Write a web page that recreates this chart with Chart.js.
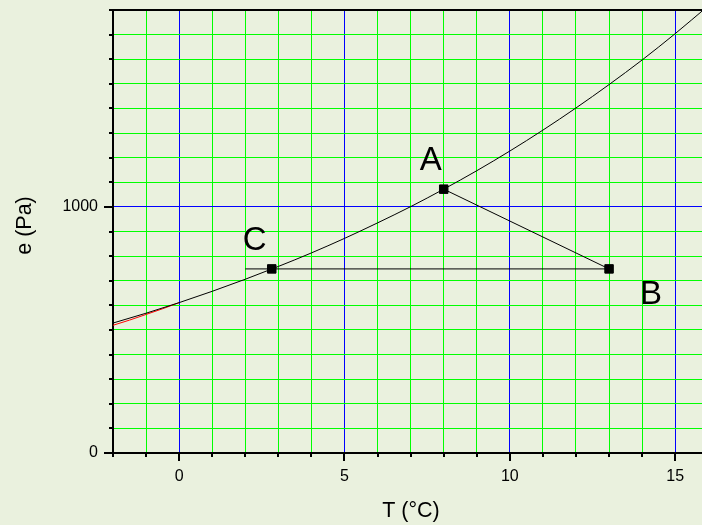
<!DOCTYPE html>
<html>
<head>
<meta charset="utf-8">
<script src="https://cdn.jsdelivr.net/npm/chart.js@4/dist/chart.umd.min.js"></script>
<style>
  html, body { margin: 0; padding: 0; background: #eaf1de; overflow: hidden; }
  canvas { display: block; }
</style>
</head>
<body>
<canvas id="c" width="702" height="525"></canvas>
<script>
// Saturation vapour pressure over water (black curve)
const curveT = [-2, -1, 0, 1, 2, 3, 4, 5, 6, 7, 8, 9, 10, 11, 12, 13, 14, 15, 16];
const curveE = [528, 568, 611, 657, 706, 758, 813, 872, 935, 1001, 1072, 1147, 1227, 1312, 1402, 1497, 1597, 1704, 1817];
// Over ice (red curve), T < 0
const iceT = [-2, -1.5, -1, -0.5, 0];
const iceE = [519, 540, 563, 586, 611];
// Marked states
const pointNames = ['A', 'B', 'C'];
const pointT = [8, 13, 2.8];
const pointE = [1072, 748, 748];
// Horizontal (isobaric) line through C to B
const hLineT = [2, 13];
const hLineE = [748, 748];
// Axis ticks
const xTickValues = [-2, -1, 0, 1, 2, 3, 4, 5, 6, 7, 8, 9, 10, 11, 12, 13, 14, 15];
const xTickLabels = ['0', '5', '10', '15'];
const yTickValues = [0, 100, 200, 300, 400, 500, 600, 700, 800, 900, 1000, 1100, 1200, 1300, 1400, 1500, 1600, 1700, 1800];
const yTickLabels = ['0', '1000'];
const xTitle = 'T (°C)';
const yTitle = 'e (Pa)';

const toXY = (xs, ys) => xs.map((x, i) => ({x: x, y: ys[i]}));
const abLine = [{x: pointT[0], y: pointE[0]}, {x: pointT[1], y: pointE[1]}];

// label offsets (pixels) relative to each marked point
const labelOffsets = {A: [-13, -19], B: [42, 35], C: [-17, -19]};

const zeroPad = (scale) => {
  scale.paddingTop = 0; scale.paddingBottom = 0;
  scale.paddingLeft = 0; scale.paddingRight = 0;
};

const decorPlugin = {
  id: 'decor',
  afterDraw(chart) {
    const {ctx, chartArea, scales} = chart;
    const xs = scales.x, ys = scales.y;
    ctx.save();
    ctx.strokeStyle = '#000';
    ctx.lineWidth = 2;
    // top border
    ctx.beginPath();
    ctx.moveTo(chartArea.left - 1, chartArea.top);
    ctx.lineTo(chartArea.right + 1, chartArea.top);
    ctx.stroke();
    // x tick marks
    xTickValues.forEach(v => {
      const px = Math.round(xs.getPixelForValue(v));
      const len = (v % 5 === 0) ? 8 : 4;
      ctx.beginPath();
      ctx.moveTo(px, chartArea.bottom);
      ctx.lineTo(px, chartArea.bottom + len);
      ctx.stroke();
    });
    // y tick marks
    yTickValues.forEach(v => {
      const py = Math.round(ys.getPixelForValue(v));
      const len = (v % 1000 === 0) ? 9 : 4;
      ctx.beginPath();
      ctx.moveTo(chartArea.left, py);
      ctx.lineTo(chartArea.left - len, py);
      ctx.stroke();
    });
    // point letters
    ctx.fillStyle = '#000';
    ctx.font = '33px "Liberation Sans", Arial, sans-serif';
    ctx.textAlign = 'center';
    ctx.textBaseline = 'alphabetic';
    pointNames.forEach((n, i) => {
      const px = xs.getPixelForValue(pointT[i]);
      const py = ys.getPixelForValue(pointE[i]);
      const off = labelOffsets[n];
      ctx.fillText(n, px + off[0], py + off[1]);
    });
    // axis titles
    ctx.font = '21.5px "Liberation Sans", Arial, sans-serif';
    ctx.textBaseline = 'middle';
    ctx.fillText(xTitle, (chartArea.left + chartArea.right) / 2 + 3.5, 511);
    ctx.translate(25, (chartArea.top + chartArea.bottom) / 2 - 6);
    ctx.rotate(-Math.PI / 2);
    ctx.fillText(yTitle, 0, 0);
    ctx.restore();
  }
};

Chart.defaults.font.family = '"Liberation Sans", Arial, sans-serif';
Chart.defaults.color = '#000';

new Chart(document.getElementById('c'), {
  type: 'scatter',
  data: {
    datasets: [
      {
        data: toXY(curveT, curveE), showLine: true, borderColor: '#000', borderWidth: 1,
        pointRadius: 0, cubicInterpolationMode: 'monotone', order: 2
      },
      {
        data: toXY(iceT, iceE), showLine: true, borderColor: '#ff0000', borderWidth: 1,
        pointRadius: 0, cubicInterpolationMode: 'monotone', order: 3
      },
      {
        data: toXY(hLineT, hLineE), showLine: true, borderColor: '#000', borderWidth: 1,
        pointRadius: 0, order: 1
      },
      {
        data: abLine, showLine: true, borderColor: '#000', borderWidth: 1,
        pointRadius: 0, order: 1
      },
      {
        data: toXY(pointT, pointE), showLine: false, pointStyle: 'rect', pointRadius: 6,
        backgroundColor: '#000', borderColor: '#000', borderWidth: 1, order: 0
      }
    ]
  },
  options: {
    responsive: false,
    maintainAspectRatio: false,
    devicePixelRatio: 1,
    animation: false,
    layout: {autoPadding: false, padding: {top: 10, right: 0, left: 0, bottom: 0}},
    plugins: {legend: {display: false}, tooltip: {enabled: false}},
    scales: {
      x: {
        type: 'linear', min: -2, max: 15.81,
        afterFit(scale) { scale.height = 72; zeroPad(scale); },
        afterBuildTicks(scale) { scale.ticks = xTickValues.map(v => ({value: v})); },
        ticks: {
          autoSkip: false, maxRotation: 0, padding: 14,
          font: {size: 16},
          callback: v => (xTickLabels.includes(String(v)) ? String(v) : '')
        },
        grid: {
          drawTicks: false, lineWidth: 1,
          color: c => (c.tick && c.tick.value % 5 === 0) ? '#0000ff' : '#00ff00'
        },
        border: {display: true, color: '#000', width: 2},
        title: {display: false}
      },
      y: {
        type: 'linear', min: 0, max: 1800,
        afterFit(scale) { scale.width = 113; zeroPad(scale); },
        afterBuildTicks(scale) { scale.ticks = yTickValues.map(v => ({value: v})); },
        ticks: {
          autoSkip: false, padding: 15,
          font: {size: 16},
          callback: v => (yTickLabels.includes(String(v)) ? String(v) : '')
        },
        grid: {
          drawTicks: false, lineWidth: 1,
          color: c => (c.tick && c.tick.value % 1000 === 0) ? '#0000ff' : '#00ff00'
        },
        border: {display: true, color: '#000', width: 2},
        title: {display: false}
      }
    }
  },
  plugins: [decorPlugin]
});
</script>
</body>
</html>
